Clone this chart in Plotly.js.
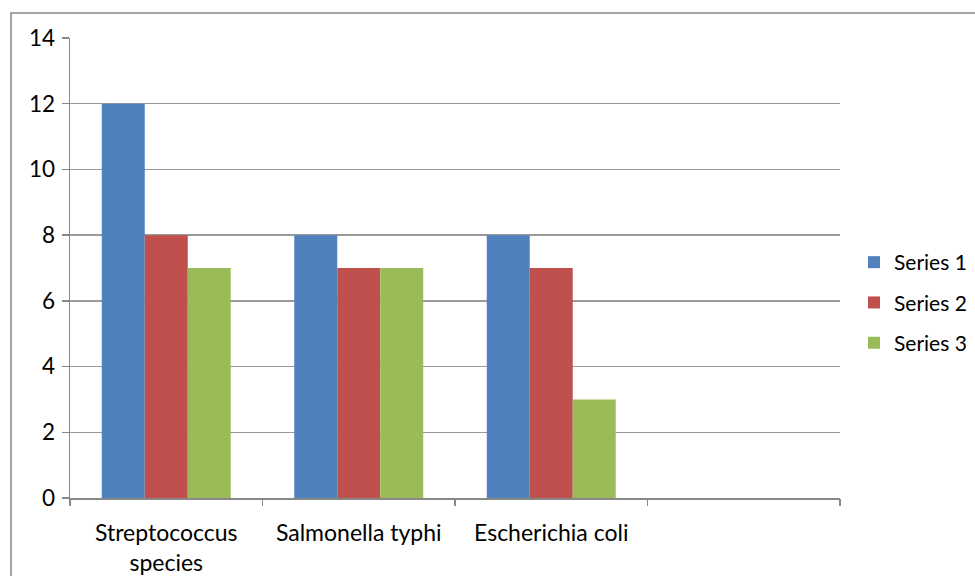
<!DOCTYPE html>
<html>
<head>
<meta charset="utf-8">
<script src="https://cdn.plot.ly/plotly-3.0.1.min.js"></script>
<style>html,body{margin:0;padding:0;background:#fff;}#chart{width:975px;height:576px;}</style>
</head>
<body>
<div id="chart"></div>
<script>
const categories = ["Streptococcus<br>species", "Salmonella typhi", "Escherichia coli"];
const series1 = [12, 8, 8];
const series2 = [8, 7, 7];
const series3 = [7, 7, 3];
const seriesNames = ["Series 1", "Series 2", "Series 3"];
const colors = ["#4F81BD", "#C0504D", "#9BBB59"];
const yTicks = [0, 2, 4, 6, 8, 10, 12, 14];

const xPos = categories.map((c, i) => i);
const data = [series1, series2, series3].map((vals, k) => ({
  type: 'bar', x: xPos, y: vals, name: seriesNames[k], legendgroup: 'g' + k,
  marker: {color: colors[k], line: {width: 0}}, xaxis: 'x', yaxis: 'y',
  hoverinfo: 'none'
}));
data.push({type: 'scatter', x: [-0.5, 3.5], y: [null, null], xaxis: 'x2', yaxis: 'y', showlegend: false, hoverinfo: 'none', mode: 'none'});

const boundaries = [-0.5, 0.5, 1.5, 2.5, 3.5];
const fontFam = 'Lato, "Open Sans", sans-serif';
const layout = {
  width: 975, height: 576,
  margin: {l: 70, r: 135, t: 38, b: 78, autoexpand: false},
  paper_bgcolor: 'rgba(0,0,0,0)', plot_bgcolor: 'rgba(0,0,0,0)',
  font: {family: fontFam, size: 22, color: '#000'},
  barmode: 'group', bargap: 0.33, bargroupgap: 0,
  showlegend: true,
  legend: {xref: 'container', yref: 'container', x: 854 / 975, y: 1 - 242 / 576, xanchor: 'left', yanchor: 'top',
    font: {size: 21, family: fontFam}, itemwidth: 30, traceorder: 'grouped', tracegroupgap: 10, bgcolor: 'rgba(0,0,0,0)'},
  xaxis: {
    range: [-0.5, 3.5], tickmode: 'array', tickvals: xPos, ticktext: categories,
    ticks: '', showgrid: false, zeroline: false, showline: true, linecolor: '#888', linewidth: 1.5,
    tickfont: {size: 23, family: fontFam}, ticklabelstandoff: 14, fixedrange: true
  },
  xaxis2: {
    overlaying: 'x', range: [-0.5, 3.5], tickmode: 'array', tickvals: boundaries, ticktext: boundaries.map(() => ''),
    ticks: 'outside', ticklen: 7, tickwidth: 1.5, tickcolor: '#888', showgrid: false, zeroline: false,
    showline: false, side: 'bottom', anchor: 'y', fixedrange: true
  },
  yaxis: {
    range: [0, 14], tickmode: 'array', tickvals: yTicks, ticktext: yTicks.map(String),
    ticks: 'outside', ticklen: 7, tickwidth: 1.5, tickcolor: '#888',
    showgrid: true, gridcolor: '#999', gridwidth: 1.5, zeroline: false,
    showline: true, linecolor: '#888', linewidth: 1.5, tickfont: {size: 22.5, family: fontFam},
    ticklabelstandoff: 2, fixedrange: true
  },
  shapes: [{
    type: 'rect', xref: 'paper', yref: 'paper', layer: 'below',
    x0: (11 - 70) / 770, x1: (990 - 70) / 770,
    y0: (498 - 590) / 460, y1: 1 + (38 - 13) / 460,
    line: {color: '#888', width: 1.5}, fillcolor: 'rgba(0,0,0,0)'
  }]
};
Plotly.newPlot('chart', data, layout, {displayModeBar: false, staticPlot: true});
</script>
</body>
</html>
